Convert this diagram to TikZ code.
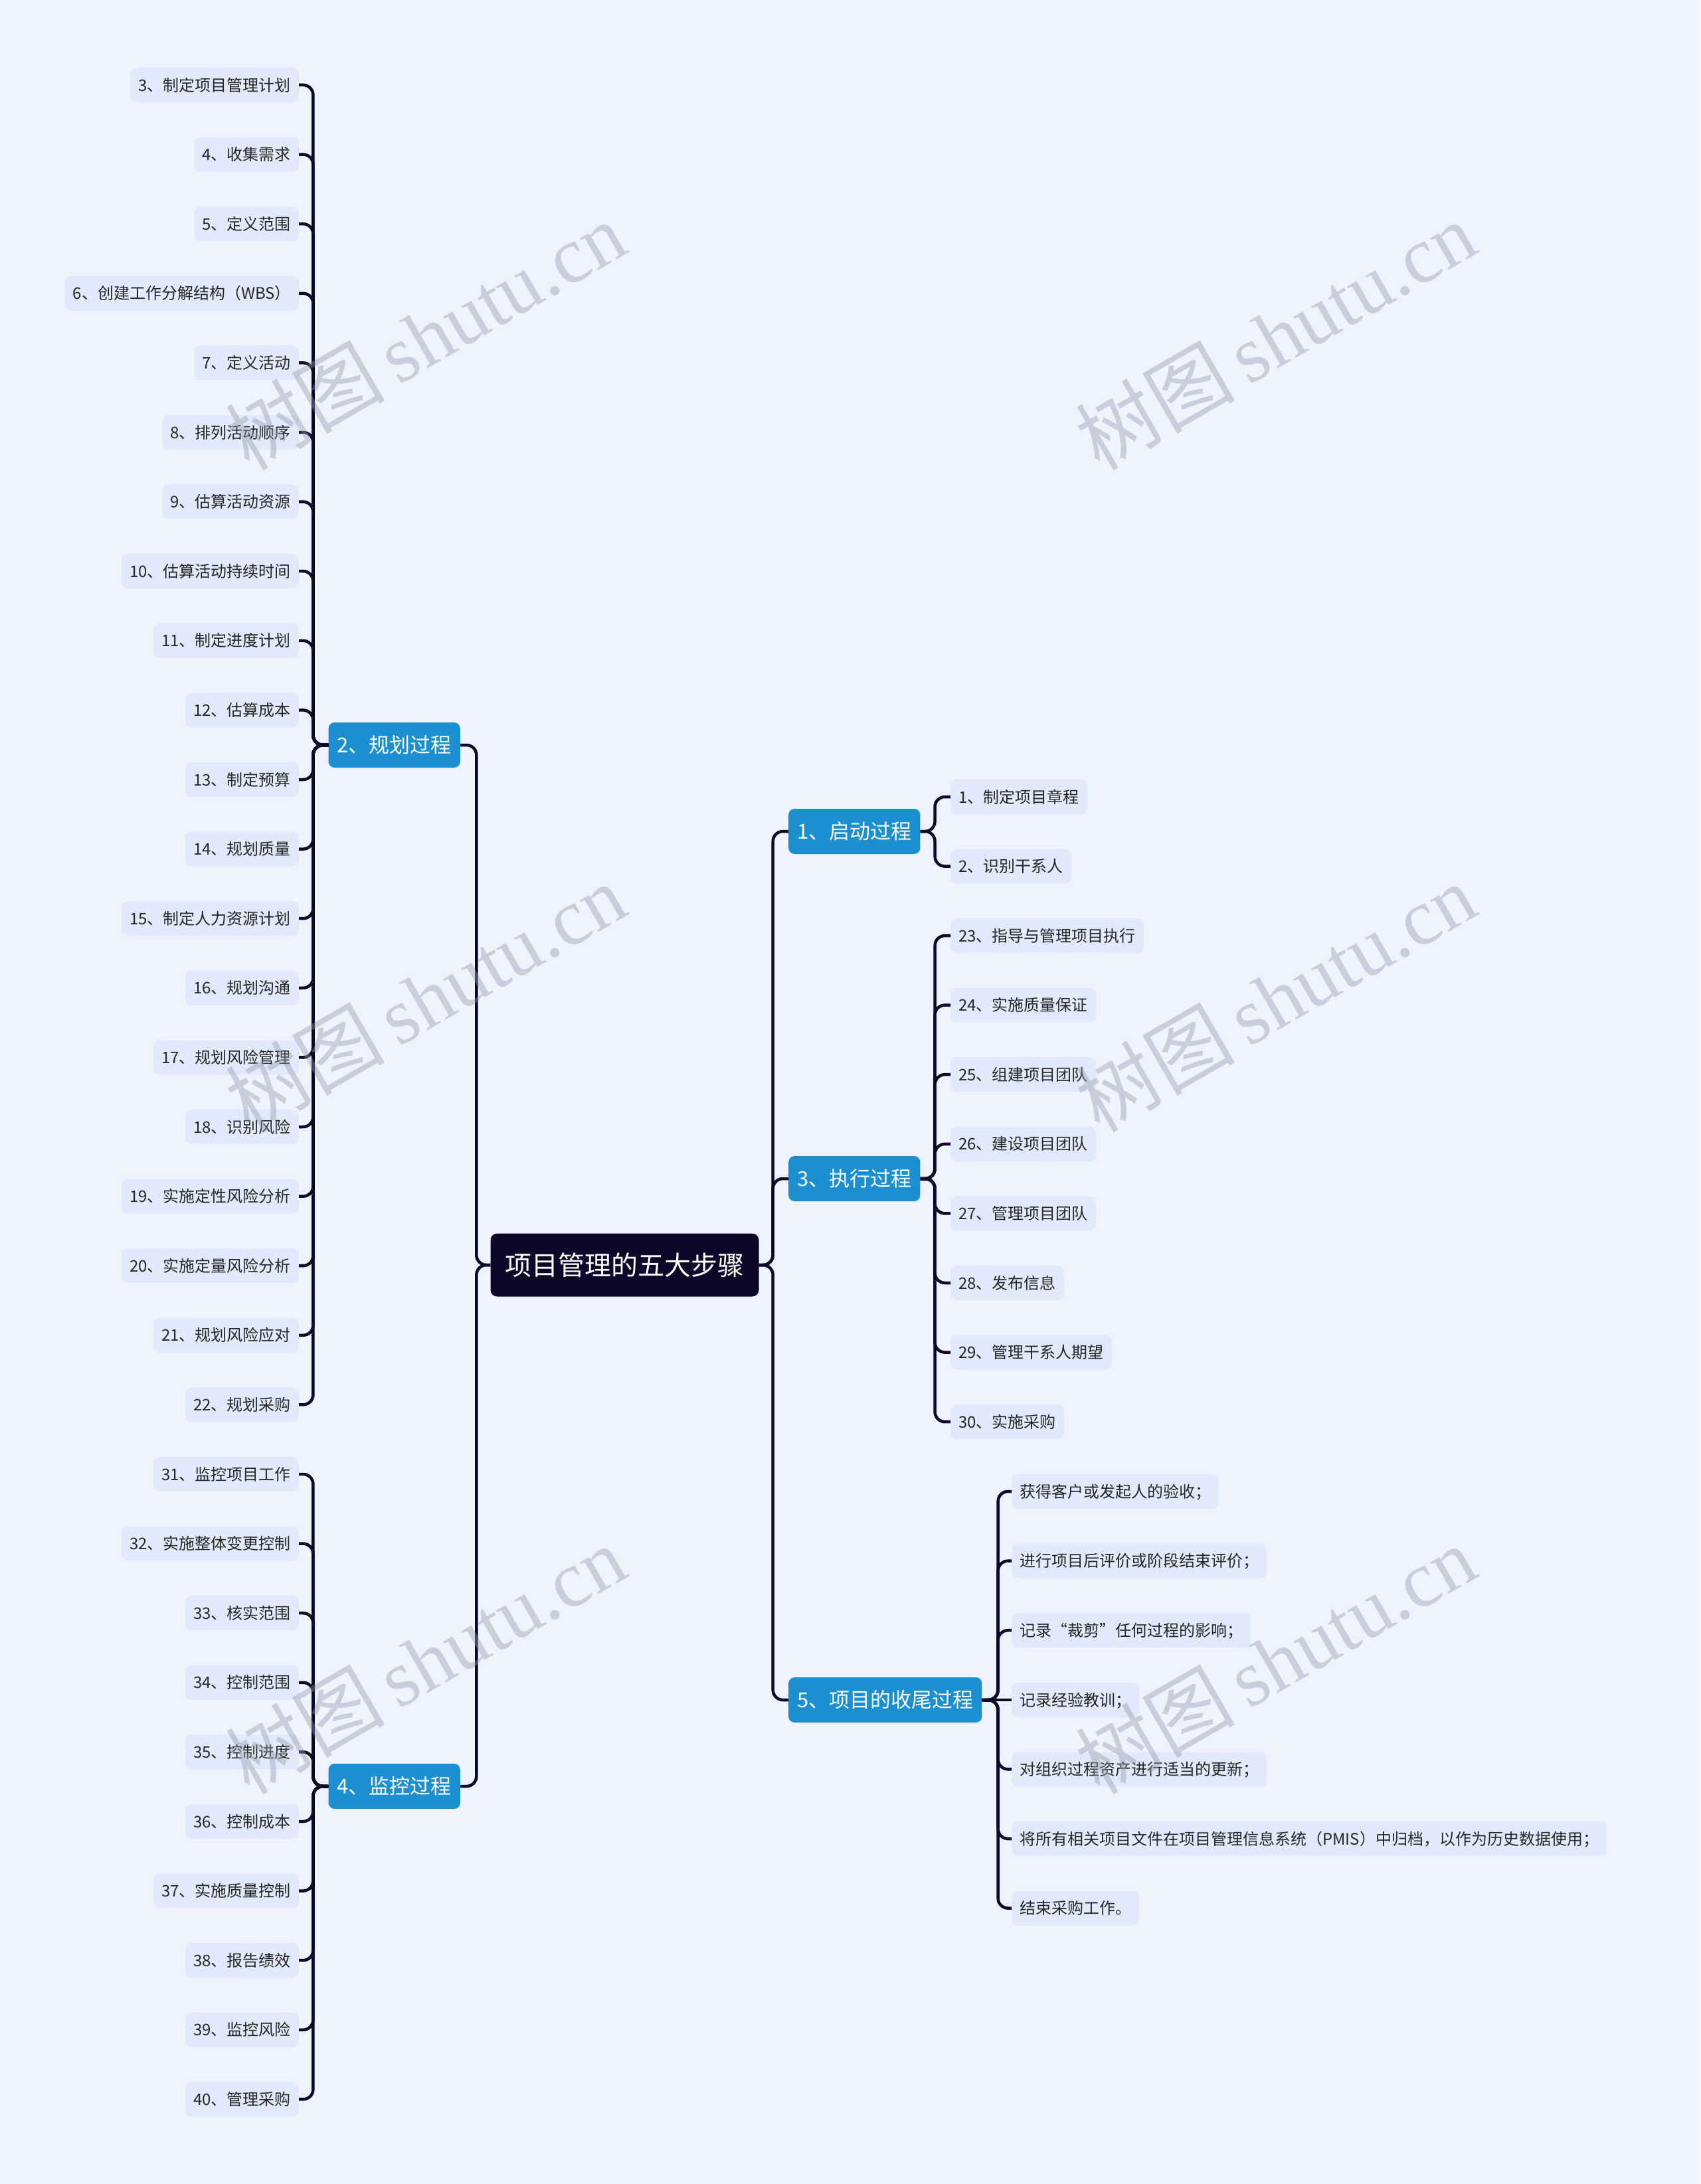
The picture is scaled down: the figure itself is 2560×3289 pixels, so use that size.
\documentclass[tikz,border=0pt]{standalone}
\usepackage{fontspec}
\setmainfont{Noto Sans CJK SC}
\newfontfamily\wmserif{Liberation Serif}
\definecolor{bgc}{RGB}{238,243,254}
\definecolor{leaffill}{RGB}{225,234,250}
\definecolor{grpfill}{RGB}{27,143,208}
\definecolor{rootfill}{RGB}{13,7,40}
\definecolor{linec}{RGB}{13,7,40}
\definecolor{leaftext}{RGB}{38,38,38}
\definecolor{wmc}{RGB}{150,155,170}
\begin{document}
\begin{tikzpicture}[x=1pt,y=-1pt,
  leafbox/.style={fill=leaffill, rounded corners=9pt, inner xsep=12pt, inner ysep=0pt,
    minimum height=52pt, text height=18.2pt, text depth=0pt,
    font=\fontsize{24}{28}\selectfont, text=leaftext},
  grpbox/.style={fill=grpfill, rounded corners=9pt, inner xsep=13pt, inner ysep=0pt,
    minimum height=68pt, text height=23.6pt, text depth=0pt,
    font=\fontsize{31}{36}\selectfont, text=white},
  rootbox/.style={fill=rootfill, rounded corners=10pt, inner xsep=22pt, inner ysep=0pt,
    minimum height=95pt, text height=30.4pt, text depth=0pt,
    font=\fontsize{40}{46}\selectfont, text=white},
  link/.style={draw=linec, line width=4.5pt, rounded corners=15pt},
  wmark/.style={text=wmc, opacity=0.42, rotate=30, inner sep=0pt,
    font=\fontsize{120}{125}\selectfont}
]
\fill[bgc] (0,0) rectangle (2560,3289);
\useasboundingbox (0,0) rectangle (2560,3289);

% root
\node[rootbox] (root) at (940.5,1905) {项目管理的五大步骤};

% level 1
\node[grpbox, anchor=east] (g2) at (693,1122) {2、规划过程};
\node[grpbox, anchor=east] (g4) at (693,2690) {4、监控过程};
\node[grpbox, anchor=west] (g1) at (1187,1252) {1、启动过程};
\node[grpbox, anchor=west] (g3) at (1187,1775) {3、执行过程};
\node[grpbox, anchor=west] (g5) at (1187,2560) {5、项目的收尾过程};

% group 2 leaves
\foreach \t [count=\i from 0] in {3、制定项目管理计划,4、收集需求,5、定义范围,6、创建工作分解结构（WBS）,7、定义活动,8、排列活动顺序,9、估算活动资源,10、估算活动持续时间,11、制定进度计划,12、估算成本,13、制定预算,14、规划质量,15、制定人力资源计划,16、规划沟通,17、规划风险管理,18、识别风险,19、实施定性风险分析,20、实施定量风险分析,21、规划风险应对,22、规划采购}{
  \node[leafbox, anchor=east] (a\i) at (450,128+\i*104.6) {\t};
  \draw[link] (g2.west) -- ++(-23,0) |- (a\i.east);
}
% group 4 leaves
\foreach \t [count=\i from 0] in {31、监控项目工作,32、实施整体变更控制,33、核实范围,34、控制范围,35、控制进度,36、控制成本,37、实施质量控制,38、报告绩效,39、监控风险,40、管理采购}{
  \node[leafbox, anchor=east] (b\i) at (450,2220+\i*104.6) {\t};
  \draw[link] (g4.west) -- ++(-23,0) |- (b\i.east);
}
% group 1 leaves
\foreach \t [count=\i from 0] in {1、制定项目章程,2、识别干系人}{
  \node[leafbox, anchor=west] (c\i) at (1431,1200+\i*104.6) {\t};
  \draw[link] (g1.east) -- ++(22,0) |- (c\i.west);
}
% group 3 leaves
\foreach \t [count=\i from 0] in {23、指导与管理项目执行,24、实施质量保证,25、组建项目团队,26、建设项目团队,27、管理项目团队,28、发布信息,29、管理干系人期望,30、实施采购}{
  \node[leafbox, anchor=west] (d\i) at (1431,1409+\i*104.6) {\t};
  \draw[link] (g3.east) -- ++(22,0) |- (d\i.west);
}
% group 5 leaves
\foreach \t [count=\i from 0] in {获得客户或发起人的验收；,进行项目后评价或阶段结束评价；,记录“裁剪”任何过程的影响；}{
  \node[leafbox, anchor=west] (e\i) at (1523,2246+\i*104.6) {\t};
  \draw[link] (g5.east) -- ++(24,0) |- (e\i.west);
}
\node[leafbox, anchor=west] (e3) at (1523,2560) {记录经验教训；};
\draw[link] (g5.east) -- (e3.west);
\foreach \t [count=\i from 4] in {对组织过程资产进行适当的更新；,将所有相关项目文件在项目管理信息系统（PMIS）中归档，以作为历史数据使用；,结束采购工作。}{
  \node[leafbox, anchor=west] (e\i) at (1523,2246+\i*104.6) {\t};
  \draw[link] (g5.east) -- ++(24,0) |- (e\i.west);
}

% root connectors
\draw[link] (root.west) -- ++(-21,0) |- (g2.east);
\draw[link] (root.west) -- ++(-21,0) |- (g4.east);
\draw[link] (root.east) -- ++(21,0) |- (g1.west);
\draw[link] (root.east) -- ++(21,0) |- (g3.west);
\draw[link] (root.east) -- ++(21,0) |- (g5.west);

% watermarks
\foreach \wx/\wy [count=\k] in {640/505,1920/505,640/1502,1920/1502,640/2499,1920/2499}{
  \node[wmark] (wm\k) at (\wx,\wy) {树图\,{\wmserif shutu.cn}};
}
\end{tikzpicture}
\end{document}
